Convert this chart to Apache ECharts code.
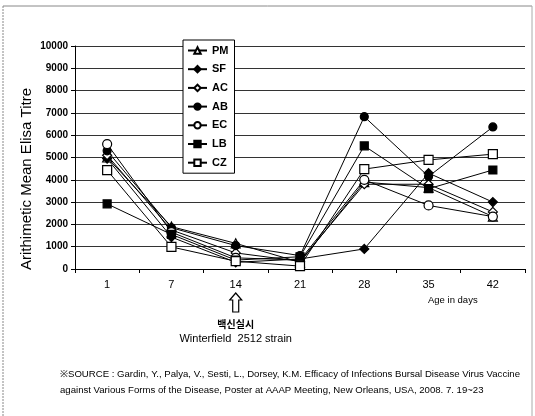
<!DOCTYPE html>
<html><head><meta charset="utf-8">
<script src="https://cdn.jsdelivr.net/npm/echarts@6/dist/echarts.min.js"></script>
<style>html,body{margin:0;padding:0;background:#fff}#c{width:535px;height:416px}</style>
</head><body><div id="c"></div>
<script>
const days = ['1','7','14','21','28','35','42'];
const PM = [5000, 1900, 1150, 300, 3900, 3650, 2350];
const SF = [4950, 1430, 300, 450, 900, 4300, 3000];
const AC = [5100, 1750, 720, 350, 3800, 3800, 2560];
const AB = [5300, 1850, 1050, 600, 6830, 4150, 6370];
const EC = [5600, 1650, 500, 400, 4000, 2850, 2350];
const LB = [2920, 1550, 400, 550, 5520, 3600, 4440];
const CZ = [4430, 990, 350, 130, 4480, 4890, 5150];
const yTicks = [0,1000,2000,3000,4000,5000,6000,7000,8000,9000,10000];

const seriesDefs = [
  {name:'PM', data:PM, symbol:'triangle', fill:'#fff', size:9},
  {name:'SF', data:SF, symbol:'diamond', fill:'#000', size:9},
  {name:'AC', data:AC, symbol:'diamond', fill:'#fff', size:9},
  {name:'AB', data:AB, symbol:'circle', fill:'#000', size:8},
  {name:'EC', data:EC, symbol:'circle', fill:'#fff', size:9},
  {name:'LB', data:LB, symbol:'rect', fill:'#000', size:8},
  {name:'CZ', data:CZ, symbol:'rect', fill:'#fff', size:9}
];

const chart = echarts.init(document.getElementById('c'), null, {renderer:'canvas'});
const font = '"Liberation Sans", Arial, sans-serif';
chart.setOption({
  animation:false,
  backgroundColor:'#fff',
  textStyle:{fontFamily:font},
  grid:{left:75, right:10, top:46, bottom:147, containLabel:false},
  legend:{
    orient:'vertical', left:183, top:40, itemGap:7.7, itemWidth:19, itemHeight:8,
    backgroundColor:'#fff', borderColor:'#000', borderWidth:1, padding:[5,6,5,4],
    textStyle:{fontSize:11, fontWeight:'bold', color:'#000', fontFamily:font},
    data: seriesDefs.map(s=>s.name)
  },
  xAxis:{
    type:'category', data:days, boundaryGap:true,
    axisLine:{lineStyle:{color:'#000', width:1}},
    axisTick:{show:true, length:4, lineStyle:{color:'#000'}},
    axisLabel:{fontSize:11, color:'#000', margin:10, fontFamily:font}
  },
  yAxis:{
    type:'value', min:0, max:10000, interval:1000,
    axisLine:{show:true, lineStyle:{color:'#000'}},
    axisTick:{show:true, length:4, lineStyle:{color:'#000'}},
    axisLabel:{fontSize:10, fontWeight:'bold', color:'#000', margin:7, fontFamily:font,
      formatter:v=> yTicks.includes(v)? String(v):''},
    splitLine:{show:true, lineStyle:{color:'#333', width:1}}
  },
  series: seriesDefs.map(s=>({
    name:s.name, type:'line', data:s.data, symbol:s.symbol, symbolSize:s.size,
    showAllSymbol:true,
    lineStyle:{color:'#000', width:1},
    itemStyle:{color:s.fill, borderColor:'#000', borderWidth:1.2},
    emphasis:{disabled:true}
  }))
});

// annotations
const px = chart.convertToPixel({xAxisIndex:0}, '14');
chart.setOption({graphic:[
  {type:'text', x:27, y:179, rotation:Math.PI/2, style:{text:'Arithimetic Mean Elisa Titre', fontSize:15, fill:'#000', align:'center', verticalAlign:'middle', fontFamily:font}},
  {type:'text', left:428, top:295, style:{text:'Age in days', fontSize:9.5, fill:'#000', fontFamily:font}},
  {type:'text', left:60, top:369, style:{text:'※SOURCE : Gardin, Y., Palya, V., Sesti, L., Dorsey, K.M. Efficacy of Infections Bursal Disease Virus Vaccine', fontSize:9.6, fill:'#000', fontFamily:font}},
  {type:'text', left:60, top:385, style:{text:'against Various Forms of the Disease, Poster at AAAP Meeting, New Orleans, USA, 2008. 7. 19~23', fontSize:9.6, fill:'#000', fontFamily:font}},
  {type:'line', shape:{x1:3, y1:6, x2:3, y2:416}, style:{stroke:'#888', lineWidth:1, lineDash:[2,1]}},
  {type:'line', shape:{x1:3, y1:6, x2:532, y2:6}, style:{stroke:'#888', lineWidth:1}},
  {type:'line', shape:{x1:532, y1:6, x2:532, y2:416}, style:{stroke:'#aaa', lineWidth:1}},
  {type:'polygon', shape:{points:[[px,293],[px+6,300],[px+3,300],[px+3,312],[px-3,312],[px-3,300],[px-6,300]]},
    style:{fill:'#fff', stroke:'#000', lineWidth:1.2}},
  {type:'text', x:px, y:319, style:{text:'백신실시', fontSize:10, fontWeight:'bold', fill:'#000', align:'center', fontFamily:'"Noto Sans CJK KR", sans-serif'}},
  {type:'text', x:px, y:333, style:{text:'Winterfield  2512 strain', fontSize:11, fill:'#000', align:'center', fontFamily:font}}
]});
</script></body></html>
